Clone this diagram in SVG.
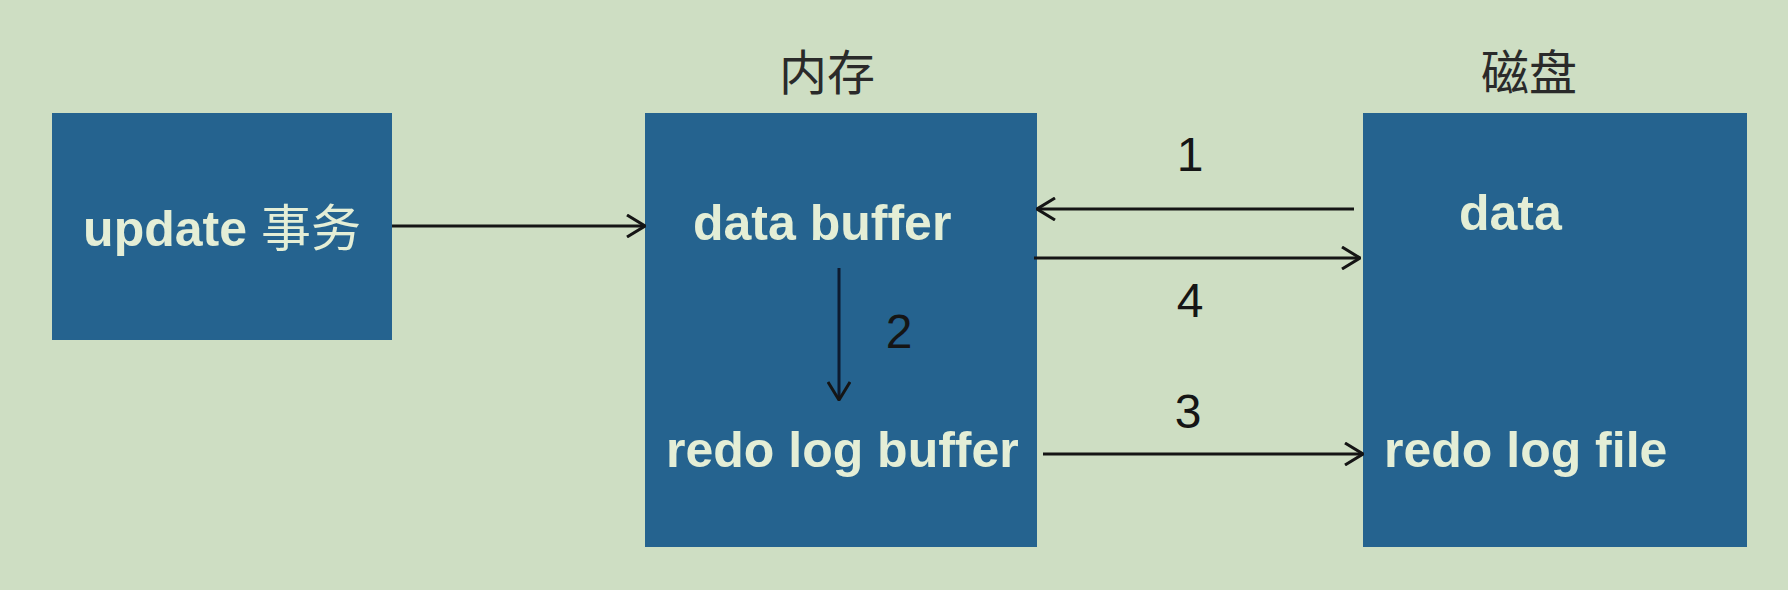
<svg xmlns="http://www.w3.org/2000/svg" width="1788" height="590" viewBox="0 0 1788 590">
  <style>
    .box { fill: #25638F; }
    .lbl { font-family: "Liberation Sans", "Noto Sans CJK SC", sans-serif; font-size: 50px; font-weight: bold; fill: #E4EED6; }
    .cjk { font-family: "Noto Sans CJK SC", sans-serif; font-weight: normal; }
    .title { font-family: "Noto Sans CJK SC", sans-serif; font-size: 48px; fill: #2a2a2a; text-anchor: middle; }
    .num { font-family: "Liberation Sans", sans-serif; font-size: 48px; fill: #151515; text-anchor: middle; }
    .conn { stroke: #151515; stroke-width: 3; fill: none; marker-end: url(#arr); }
  </style>
  <defs>
    <marker id="arr" viewBox="0 0 20 24" refX="19" refY="12" markerWidth="20" markerHeight="24" markerUnits="userSpaceOnUse" orient="auto">
      <path d="M1,1 L19,12 L1,23" fill="none" stroke="#151515" stroke-width="3"/>
    </marker>
  </defs>
  <rect x="0" y="0" width="1788" height="590" fill="#CEDEC3"/>

  <g id="title-memory"><text class="title" x="827" y="90">内存</text></g>
  <g id="title-disk"><text class="title" x="1529" y="90">磁盘</text></g>

  <g id="node-update">
    <rect class="box" x="52" y="113" width="340" height="227"/>
    <text class="lbl" x="222" y="246" text-anchor="middle">update <tspan class="cjk">事务</tspan></text>
  </g>

  <g id="node-memory">
    <rect class="box" x="645" y="113" width="392" height="434"/>
    <text class="lbl" x="693" y="240">data buffer</text>
    <text class="lbl" x="666" y="467">redo log buffer</text>
  </g>

  <g id="node-disk">
    <rect class="box" x="1363" y="113" width="384" height="434"/>
    <text class="lbl" x="1459" y="230">data</text>
    <text class="lbl" x="1384" y="467">redo log file</text>
  </g>

  <g id="connectors">
    <line class="conn" x1="392" y1="226" x2="645" y2="226"/>
    <line class="conn" x1="1354" y1="209" x2="1037" y2="209"/>
    <line class="conn" x1="1034" y1="258" x2="1360" y2="258"/>
    <line class="conn" x1="1043" y1="454" x2="1363" y2="454"/>
    <line class="conn" x1="839" y1="268" x2="839" y2="400" style="stroke:#0d1a2e"/>
    <text class="num" x="1190" y="171">1</text>
    <text class="num" x="899" y="348">2</text>
    <text class="num" x="1188" y="428">3</text>
    <text class="num" x="1190" y="317">4</text>
  </g>
</svg>
